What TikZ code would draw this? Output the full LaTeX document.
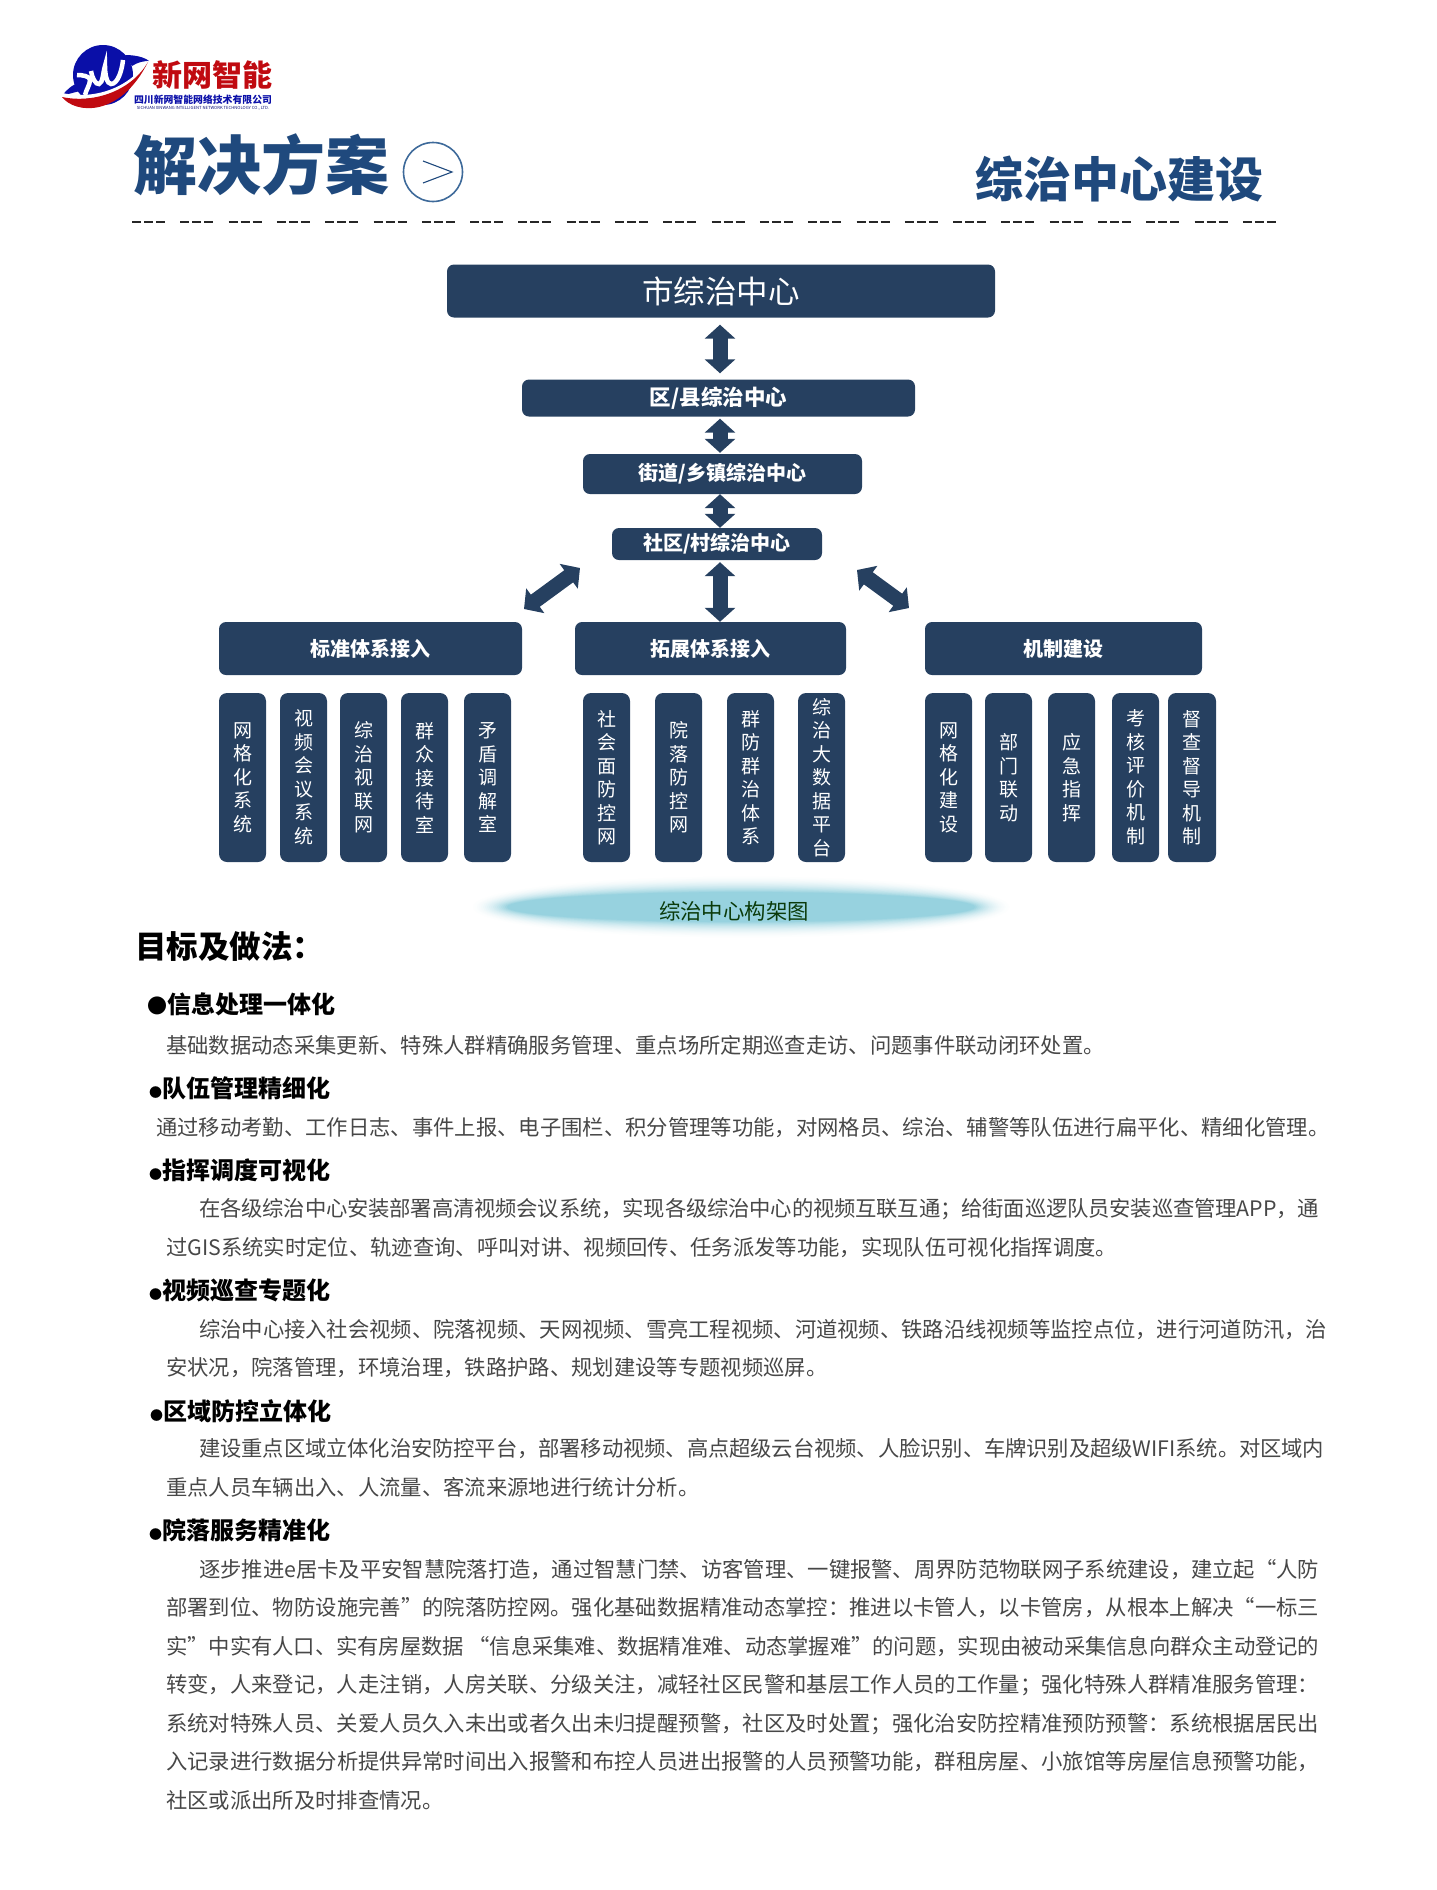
\documentclass[tikz,border=0pt]{standalone}
\usepackage{fontspec}
\setmainfont{Noto Sans CJK SC}
\usetikzlibrary{arrows.meta,calc}
\XeTeXlinebreaklocale "zh"
\XeTeXlinebreakskip=0pt plus 3pt minus 0.4pt
\tolerance=9999
\definecolor{boxblue}{HTML}{264060}
\definecolor{titleblue}{HTML}{1F497D}
\definecolor{ringblue}{HTML}{3E6A9A}
\definecolor{logoblue}{HTML}{0A0FA8}
\definecolor{logored}{HTML}{C00A10}
\definecolor{glowblue}{HTML}{97D2DF}
\definecolor{capgreen}{HTML}{0B3B0B}
\newcommand{\fsize}[1]{\fontsize{#1}{#1}\selectfont}
\newcommand{\subdot}{{\fsize{13}●}}
\tikzset{
    levelbox/.style={fill=boxblue, rounded corners=7pt, text=white, inner sep=0pt},
    vbox/.style={fill=boxblue, rounded corners=8pt, text=white, inner sep=0pt, align=center, minimum height=169pt, font=\fontsize{19}{23.5}\selectfont},
    bigarrow/.style={draw=boxblue, line width=15pt, {Triangle[length=14pt,width=30pt]}-{Triangle[length=14pt,width=30pt]}},
    subhead/.style={anchor=west, inner sep=0pt, font=\fsize{24}\bfseries},
    bodyline/.style={anchor=west, inner sep=0pt, text=black!72, font=\fsize{21.33}},
    para/.style={anchor=north west, inner sep=0pt, align=justify, text width=#1, text=black!72, font=\fontsize{21.33}{38.5}\selectfont}
}
\begin{document}
\begin{tikzpicture}[x=1pt,y=-1pt]
    \useasboundingbox (0,0) rectangle (1436,1890);

    % logo
    \fill[logoblue] (103,75) circle (30);
    \fill[logoblue] (62,96) .. controls (66,90) and (72,85) .. (80,82) -- (84,90) .. controls (76,92) and (68,94) .. (62,96) -- cycle;
    \fill[logoblue] (125,55) .. controls (135,55) and (144,57) .. (149,61) .. controls (144,61) and (138,62) .. (132,66) -- cycle;
    \draw[white, line width=4pt] (62,95) .. controls (95,102) and (130,90) .. (149,62);
    \fill[logored] (62,97) .. controls (75,114) and (120,118) .. (148,62) .. controls (132,90) and (95,104) .. (62,97) -- cycle;
    \draw[white, line width=4.5pt] (77,75) .. controls (82,75) and (90,76) .. (90,80) .. controls (90,85) and (86,90) .. (85,95);
    \draw[white, line width=4.5pt] (91,71) .. controls (92,78) and (96,85) .. (99,84) .. controls (103,83) and (103,72) .. (105,66) .. controls (105,75) and (107,84) .. (111,84) .. controls (118,84) and (122,70) .. (123,60);
    \node[text=logored, inner sep=0pt, font=\fsize{30}\bfseries] (brand) at (212,74.5) {新网智能};
    \node[text=logoblue, inner sep=0pt, font=\fsize{9.85}\bfseries] (brandcn) at (203,99.5) {四川新网智能网络技术有限公司};
    \node[text=logoblue!70!black, inner sep=0pt, font=\fsize{4.2}] (branden) at (203,108) {SICHUAN XINWANG INTELLIGENT NETWORK TECHNOLOGY CO., LTD.};

    % title row
    \node[anchor=west, inner sep=0pt, text=titleblue, font=\fsize{64}\bfseries] (title) at (133,165) {解决方案};
    \draw[ringblue, line width=1.6pt] (433,172) circle (29.5);
    \draw[titleblue, line width=1.1pt] (423,161) -- (452,172) -- (423,183);
    \node[anchor=east, inner sep=0pt, text=titleblue, font=\fsize{48}\bfseries] (subtitle) at (1264,179) {综治中心建设};
    \draw[black!85, line width=2.6pt, dash pattern=on 9pt off 3pt on 9pt off 3pt on 9pt off 15.3pt] (132,222) -- (1276,222);

    % levels
    \node[levelbox, minimum width=548pt, minimum height=53pt, font=\fsize{31.5}] (city) at (721,291) {市综治中心};
    \node[levelbox, minimum width=393pt, minimum height=37pt, font=\fsize{21.5}\bfseries] (district) at (718.5,398) {区/县综治中心};
    \node[levelbox, minimum width=279pt, minimum height=40pt, font=\fsize{20}\bfseries] (street) at (722.5,474) {街道/乡镇综治中心};
    \node[levelbox, minimum width=210pt, minimum height=32pt, font=\fsize{20}\bfseries] (community) at (717,544) {社区/村综治中心};

    \node[levelbox, minimum width=303pt, minimum height=53pt, font=\fsize{20}\bfseries] (stdbox) at (370.5,648.5) {标准体系接入};
    \node[levelbox, minimum width=271pt, minimum height=53pt, font=\fsize{20}\bfseries] (extbox) at (710.5,648.5) {拓展体系接入};
    \node[levelbox, minimum width=277pt, minimum height=53pt, font=\fsize{20}\bfseries] (mechbox) at (1063.5,648.5) {机制建设};

    \coordinate (axis) at (720,0);
    \draw[bigarrow, shorten <=7pt, shorten >=6pt] (city.south -| axis) -- (district.north -| axis);
    \draw[bigarrow, shorten <=2pt, shorten >=1pt] (district.south -| axis) -- (street.north -| axis);
    \draw[bigarrow] (street.south -| axis) -- (community.north -| axis);
    \draw[bigarrow, shorten <=2pt] (community.south -| axis) -- (extbox.north -| axis);
    \coordinate (leftup) at (580,568);
    \coordinate (leftdown) at (524,609);
    \coordinate (rightup) at (857,570);
    \coordinate (rightdown) at (909,608);
    \draw[bigarrow] (leftup) -- (leftdown);
    \draw[bigarrow] (rightup) -- (rightdown);

    \foreach \name/\xa/\xb/\chars in {
        gridsys/219/266/{网\\格\\化\\系\\统},
        videoconf/280/327/{视\\频\\会\\议\\系\\统},
        videonet/340/387/{综\\治\\视\\联\\网},
        reception/401/448/{群\\众\\接\\待\\室},
        mediation/464/511/{矛\\盾\\调\\解\\室},
        socialnet/583/630/{社\\会\\面\\防\\控\\网},
        yardnet/655/702/{院\\落\\防\\控\\网},
        crowdsys/727/774/{群\\防\\群\\治\\体\\系},
        dataplat/798/845/{综\\治\\大\\数\\据\\平\\台},
        gridbuild/925/972/{网\\格\\化\\建\\设},
        linkage/985/1032/{部\\门\\联\\动},
        command/1048/1095/{应\\急\\指\\挥},
        assess/1112/1159/{考\\核\\评\\价\\机\\制},
        inspect/1168/1216/{督\\查\\督\\导\\机\\制}}
    {
    \node[vbox, minimum width={(\xb-\xa)*1pt}] (\name) at ({(\xa+\xb)/2},777.5) {\chars};
    }

    % caption glow
    \foreach \k in {0,...,20}
    {
    \pgfmathtruncatemacro{\pct}{100*(\k/20)^2}
    \fill[glowblue!\pct!white] (741,907) ellipse ({274-2*\k} and {33-0.9*\k});
    }
    \node[inner sep=0pt, text=capgreen, font=\fsize{21.4}] (caption) at (734,911) {综治中心构架图};

    % text
    \node[anchor=west, inner sep=0pt, font=\fsize{31.5}\bfseries] (goals) at (135,947) {目标及做法：};

    \node[subhead] (head1) at (147,1004) {{\fsize{20}●}信息处理一体化};
    \node[bodyline] (body1) at (166,1045.5) {基础数据动态采集更新、特殊人群精确服务管理、重点场所定期巡查走访、问题事件联动闭环处置。};

    \node[subhead] (head2) at (149,1088) {\subdot 队伍管理精细化};
    \node[bodyline] (body2) at (156,1128) {通过移动考勤、工作日志、事件上报、电子围栏、积分管理等功能，对网格员、综治、辅警等队伍进行扁平化、精细化管理。};

    \node[subhead] (head3) at (149,1170) {\subdot 指挥调度可视化};
    \node[para=1153pt] (body3) at (166,1198.5) {\hspace*{33pt}在各级综治中心安装部署高清视频会议系统，实现各级综治中心的视频互联互通；给街面巡逻队员安装巡查管理APP，通\linebreak 过GIS系统实时定位、轨迹查询、呼叫对讲、视频回传、任务派发等功能，实现队伍可视化指挥调度。};

    \node[subhead] (head4) at (149,1290) {\subdot 视频巡查专题化};
    \node[para=1161pt] (body4) at (166,1319) {\hspace*{33pt}综治中心接入社会视频、院落视频、天网视频、雪亮工程视频、河道视频、铁路沿线视频等监控点位，进行河道防汛，治\linebreak 安状况，院落管理，环境治理，铁路护路、规划建设等专题视频巡屏。};

    \node[subhead] (head5) at (150,1411) {\subdot 区域防控立体化};
    \node[para=1158pt] (body5) at (166,1438.5) {\hspace*{33pt}建设重点区域立体化治安防控平台，部署移动视频、高点超级云台视频、人脸识别、车牌识别及超级WIFI系统。对区域内\linebreak 重点人员车辆出入、人流量、客流来源地进行统计分析。};

    \node[subhead] (head6) at (149,1530) {\subdot 院落服务精准化};
    \node[para=1153pt] (body6) at (166,1559) {\hspace*{33pt}逐步推进e居卡及平安智慧院落打造，通过智慧门禁、访客管理、一键报警、周界防范物联网子系统建设，建立起“人防\linebreak 部署到位、物防设施完善”的院落防控网。强化基础数据精准动态掌控：推进以卡管人，以卡管房，从根本上解决“一标三\linebreak 实”中实有人口、实有房屋数据 “信息采集难、数据精准难、动态掌握难”的问题，实现由被动采集信息向群众主动登记的\linebreak 转变，人来登记，人走注销，人房关联、分级关注，减轻社区民警和基层工作人员的工作量；强化特殊人群精准服务管理：\linebreak 系统对特殊人员、关爱人员久入未出或者久出未归提醒预警，社区及时处置；强化治安防控精准预防预警：系统根据居民出\linebreak 入记录进行数据分析提供异常时间出入报警和布控人员进出报警的人员预警功能，群租房屋、小旅馆等房屋信息预警功能，\linebreak 社区或派出所及时排查情况。};
\end{tikzpicture}
\end{document}
